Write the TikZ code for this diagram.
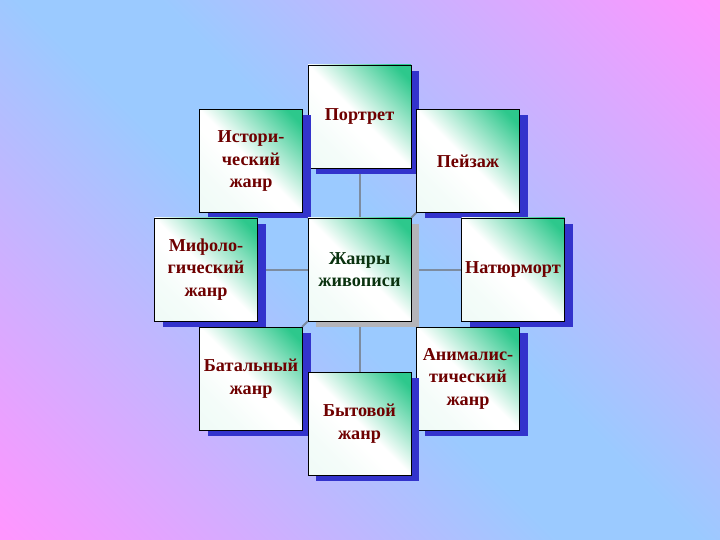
\documentclass[tikz,border=0pt]{standalone}
\usepackage{fontspec}
\setmainfont{Liberation Serif}
\usetikzlibrary{shadows}
\definecolor{bgblue}{RGB}{155,202,255}
\definecolor{bgpink}{RGB}{255,150,255}
\definecolor{boxgreen}{RGB}{45,200,140}
\definecolor{shadowblue}{RGB}{51,51,204}
\definecolor{shadowgrey}{RGB}{180,180,185}
\definecolor{txtred}{RGB}{110,0,0}
\definecolor{txtgreen}{RGB}{10,50,15}
\definecolor{linkgrey}{RGB}{125,140,160}
\pgfdeclareverticalshading{backshade}{100bp}{color(0bp)=(bgpink);
  color(15bp)=(bgpink); color(46bp)=(bgblue); color(54bp)=(bgblue);
  color(85bp)=(bgpink); color(100bp)=(bgpink)}
\pgfdeclareverticalshading{genreshade}{100bp}{color(0bp)=(white!90!boxgreen);
  color(30bp)=(white!95!boxgreen); color(44bp)=(white); color(50bp)=(white);
  color(80bp)=(boxgreen); color(100bp)=(boxgreen)}

\begin{document}
\begin{tikzpicture}[x=1pt, y=-1pt,
  genre/.style={rectangle, draw=black, line width=0.8pt,
    minimum width=103pt, minimum height=103pt, inner sep=1pt,
    shading=genreshade, shading angle=-45, align=center, text=txtred,
    font=\bfseries\fontsize{18.2}{22.5}\selectfont,
    general shadow={fill=shadowblue, shadow xshift=8pt, shadow yshift=-6pt}},
  hub/.style={genre, text=txtgreen,
    general shadow={fill=shadowgrey, shadow xshift=8pt, shadow yshift=-6pt}},
  link/.style={draw=linkgrey, line width=2pt}]
\useasboundingbox (0,0) rectangle (720,540);
\shade[shading=backshade, shading angle=-45] (0,0) rectangle (720,540);

\coordinate (c) at (359.5,269.5);
\coordinate (hubnw) at (308,218);
\coordinate (hubne) at (411,218);
\coordinate (hubsw) at (308,321);
\coordinate (hubse) at (411,321);
\coordinate (istse) at (302,212);
\coordinate (peysw) at (417,212);
\coordinate (batne) at (302,327);
\coordinate (aninw) at (417,327);

\draw[link] (359.5,116.5) -- (359.5,423.5);
\draw[link] (206,269.5) -- (513,269.5);
\draw[link] (istse) -- (hubnw);
\draw[link] (peysw) -- (hubne);
\draw[link] (batne) -- (hubsw);
\draw[link] (aninw) -- (hubse);

\node[genre] (portrait) at (359.5,116.5) {Портрет};
\node[genre] (history) at (251,161) {Истори-\\ческий\\жанр};
\node[genre] (landscape) at (468,161) {Пейзаж};
\node[genre] (myth) at (206,269.5) {Мифоло-\\гический\\жанр};
\node[hub] (genres) at (c) {Жанры\\живописи};
\node[genre] (stilllife) at (513,269.5) {Натюрморт};
\node[genre] (battle) at (251,378.5) {Батальный\\жанр};
\node[genre] (animal) at (468,378.5) {Анималис-\\тический\\жанр};
\node[genre] (everyday) at (359.5,423.5) {Бытовой\\жанр};
\end{tikzpicture}
\end{document}
